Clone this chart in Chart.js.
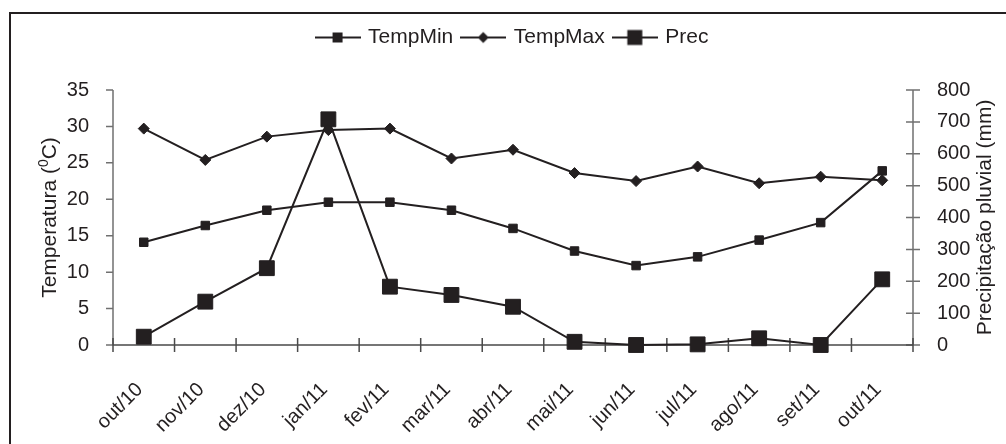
<!DOCTYPE html>
<html>
<head>
<meta charset="utf-8">
<script src="https://cdn.jsdelivr.net/npm/chart.js@4.4.0/dist/chart.umd.min.js"></script>
<style>
  html, body { margin: 0; padding: 0; background: #fff; }
  #wrap { position: relative; width: 1006px; height: 444px; overflow: hidden; }
  #frame { position: absolute; left: 9px; top: 12px; width: 1200px; height: 700px;
           border-left: 2px solid #231f20; border-top: 2px solid #231f20; }
  canvas { position: absolute; left: 0; top: 0; }
</style>
</head>
<body>
<div id="wrap"><div id="frame"></div><canvas id="c" width="1006" height="444"></canvas></div>
<script>
// Monthly climate series
const months  = ['out/10','nov/10','dez/10','jan/11','fev/11','mar/11','abr/11','mai/11','jun/11','jul/11','ago/11','set/11','out/11'];
const tempMin = [14.1, 16.4, 18.5, 19.6, 19.6, 18.5, 16.0, 12.9, 10.9, 12.1, 14.4, 16.8, 23.9];
const tempMax = [29.7, 25.4, 28.6, 29.5, 29.7, 25.6, 26.8, 23.6, 22.5, 24.5, 22.2, 23.1, 22.6];
const prec    = [26, 136, 241, 708, 183, 157, 120, 10, 0, 2, 21, 0, 206];

// Axis ranges and titles
const tempTicks = { min: 0, max: 35, step: 5 };
const precTicks = { min: 0, max: 800, step: 100 };
const seriesNames = ['TempMin', 'TempMax', 'Prec'];
const leftTitle = ['Temperatura (', '0', 'C)'];
const rightTitle = 'Precipitação pluvial (mm)';

const INK = '#231f20';
const AXIS = '#707070';
const FONT = '"Liberation Sans", Arial, Helvetica, sans-serif';

// Legend glyphs: short line with the series marker in the middle
function legendIcon(kind, size) {
  const c = document.createElement('canvas');
  c.width = 46; c.height = 18;
  const g = c.getContext('2d');
  g.strokeStyle = INK; g.lineWidth = 2;
  g.beginPath(); g.moveTo(0, 9); g.lineTo(46, 9); g.stroke();
  g.fillStyle = INK;
  if (kind === 'diamond') {
    g.beginPath();
    g.moveTo(23, 9 - size / 2); g.lineTo(23 + size / 2, 9);
    g.lineTo(23, 9 + size / 2); g.lineTo(23 - size / 2, 9);
    g.closePath(); g.fill();
  } else {
    g.fillRect(23 - size / 2, 9 - size / 2, size, size);
  }
  return c;
}
const icons = [legendIcon('square', 10), legendIcon('diamond', 11), legendIcon('square', 15)];

// Axis lines with tick marks, plus the two rotated axis titles
const axesPlugin = {
  id: 'axes',
  beforeDatasetsDraw(chart) {
    const { ctx, chartArea: a, scales } = chart;
    const x = scales.x, y = scales.y, y1 = scales.y1;
    ctx.save();
    ctx.strokeStyle = AXIS;
    ctx.lineWidth = 1.5;
    ctx.beginPath();
    // left axis
    ctx.moveTo(a.left, a.top); ctx.lineTo(a.left, a.bottom);
    y.ticks.forEach(t => {
      const p = y.getPixelForValue(t.value);
      ctx.moveTo(a.left - 7, p); ctx.lineTo(a.left, p);
    });
    // right axis
    ctx.moveTo(a.right, a.top); ctx.lineTo(a.right, a.bottom);
    y1.ticks.forEach(t => {
      const p = y1.getPixelForValue(t.value);
      ctx.moveTo(a.right - 7, p); ctx.lineTo(a.right + 7, p);
    });
    ctx.stroke();
    // category axis, ticks between months
    ctx.strokeStyle = '#4a4a4a';
    ctx.beginPath();
    ctx.moveTo(a.left, a.bottom); ctx.lineTo(a.right, a.bottom);
    for (let i = 0; i <= months.length; i++) {
      const p = x.getPixelForValue(i - 0.5);
      ctx.moveTo(p, a.bottom - 7); ctx.lineTo(p, a.bottom + 7);
    }
    ctx.stroke();
    ctx.restore();
  },
  afterDraw(chart) {
    const { ctx, chartArea: a } = chart;
    const cy = (a.top + a.bottom) / 2;
    ctx.save();
    ctx.fillStyle = INK;
    ctx.textBaseline = 'middle';
    // left title with superscript
    const big = '21px ' + FONT, small = '14px ' + FONT;
    ctx.font = big;
    const w1 = ctx.measureText(leftTitle[0]).width;
    const w3 = ctx.measureText(leftTitle[2]).width;
    ctx.font = small;
    const w2 = ctx.measureText(leftTitle[1]).width;
    const total = w1 + w2 + w3;
    ctx.translate(50, cy);
    ctx.rotate(-Math.PI / 2);
    ctx.textAlign = 'left';
    ctx.font = big;
    ctx.fillText(leftTitle[0], -total / 2, 0);
    ctx.font = small;
    ctx.fillText(leftTitle[1], -total / 2 + w1, -6);
    ctx.font = big;
    ctx.fillText(leftTitle[2], -total / 2 + w1 + w2, 0);
    ctx.restore();
    // right title
    ctx.save();
    ctx.fillStyle = INK;
    ctx.font = big;
    ctx.textAlign = 'center';
    ctx.textBaseline = 'middle';
    ctx.translate(985, cy);
    ctx.rotate(-Math.PI / 2);
    ctx.fillText(rightTitle, 0, 0);
    ctx.restore();
  }
};

// Fixed legend band height so the plot starts at the right place
const legendBand = {
  id: 'legendBand',
  beforeInit(chart) {
    const lg = chart.legend;
    if (!lg) return;
    const fit = lg.fit;
    lg.fit = function () { fit.call(this); this.height = 73; };
  }
};

const lineDs = (label, data, axis, style, radius) => ({
  label, data, yAxisID: axis,
  borderColor: INK, backgroundColor: INK,
  borderWidth: 2, tension: 0,
  pointStyle: style, pointRadius: radius, pointHoverRadius: radius,
  pointBackgroundColor: INK, pointBorderColor: INK, pointBorderWidth: 1,
  clip: false
});

new Chart(document.getElementById('c'), {
  type: 'line',
  data: {
    labels: months,
    datasets: [
      lineDs(seriesNames[0], tempMin, 'y', 'rect', 6),
      lineDs(seriesNames[1], tempMax, 'y', 'rectRot', 5.5),
      lineDs(seriesNames[2], prec, 'y1', 'rect', 10.5)
    ]
  },
  options: {
    responsive: false,
    animation: false,
    layout: { padding: { top: 17, left: 20, right: 0, bottom: 0 } },
    plugins: {
      tooltip: { enabled: false },
      legend: {
        position: 'top',
        labels: {
          usePointStyle: true,
          pointStyleWidth: 40,
          padding: 10,
          color: INK,
          font: { family: FONT, size: 21 },
          generateLabels(chart) {
            const items = Chart.defaults.plugins.legend.labels.generateLabels(chart);
            return items.map((it, i) => Object.assign(it, { pointStyle: icons[i], lineWidth: 0 }));
          }
        }
      }
    },
    scales: {
      x: {
        type: 'category',
        offset: true,
        grid: { display: false },
        border: { display: false },
        ticks: {
          autoSkip: false, minRotation: 45, maxRotation: 45,
          padding: 25, labelOffset: -4, color: INK,
          font: { family: FONT, size: 20 }
        },
        afterFit(s) { s.height = 99; }
      },
      y: {
        position: 'left',
        min: tempTicks.min, max: tempTicks.max,
        grid: { display: false },
        border: { display: false },
        ticks: { stepSize: tempTicks.step, padding: 16, color: INK, font: { family: FONT, size: 20 } },
        afterFit(s) { s.width = 93; }
      },
      y1: {
        position: 'right',
        min: precTicks.min, max: precTicks.max,
        grid: { display: false },
        border: { display: false },
        ticks: { stepSize: precTicks.step, padding: 16, color: INK, font: { family: FONT, size: 20 } },
        afterFit(s) { s.width = 93; }
      }
    }
  },
  plugins: [legendBand, axesPlugin]
});
</script>
</body>
</html>
